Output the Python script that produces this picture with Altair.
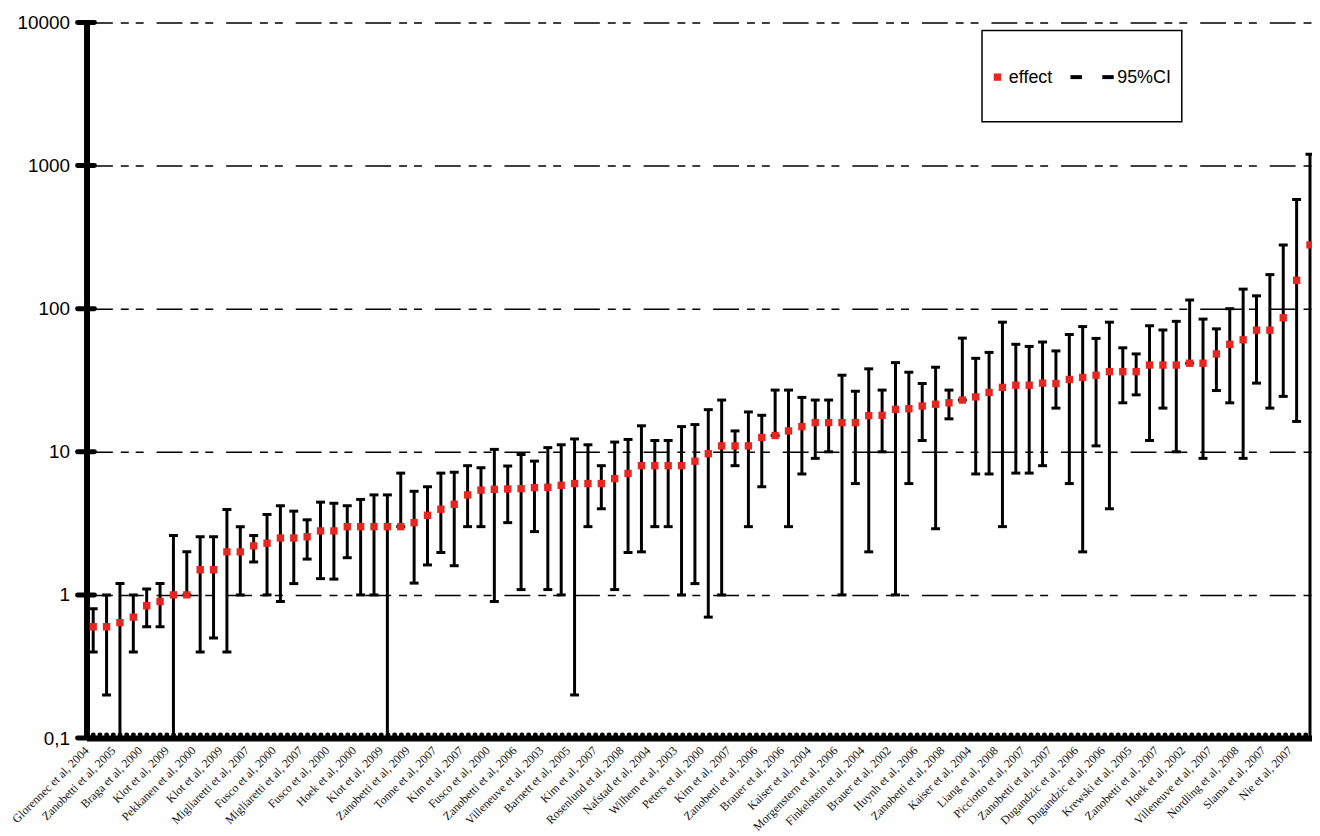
import altair as alt
import pandas as pd

# ---- data (one study per position) ----
EFFECT = [0.6, 0.6, 0.64, 0.7, 0.84, 0.9, 1.0, 1.0, 1.5, 1.5,
          2.0, 2.0, 2.2, 2.3, 2.5, 2.5, 2.55, 2.8, 2.8, 3.0,
          3.0, 3.0, 3.0, 3.0, 3.2, 3.6, 3.97, 4.3, 5.0, 5.4,
          5.47, 5.5, 5.53, 5.62, 5.65, 5.83, 6.0, 6.0, 6.0, 6.5,
          7.07, 8.0, 8.0, 8.0, 8.0, 8.6, 9.7, 11.0, 11.0, 11.0,
          12.6, 13.0, 14.0, 15.0, 16.0, 16.0, 16.0, 16.0, 17.9, 18.0,
          19.8, 20.0, 20.9, 21.5, 22.0, 23.0, 24.2, 26.0, 28.2, 29.2,
          29.2, 30.2, 30.0, 32.0, 33.1, 34.3, 36.3, 36.3, 36.3, 40.4,
          40.4, 40.4, 41.6, 41.6, 48.3, 56.4, 60.6, 70.8, 70.8, 86.4,
          158.0, 279.0]
LOWER = [0.4, 0.2, 0.1, 0.4, 0.6, 0.6, 0.1, 1.0, 0.4, 0.5,
         0.4, 1.0, 1.7, 1.0, 0.9, 1.2, 1.78, 1.3, 1.29, 1.82,
         1.0, 1.0, 0.1, 3.0, 1.21, 1.62, 1.98, 1.6, 3.0, 3.0,
         0.9, 3.2, 1.09, 2.77, 1.09, 1.0, 0.2, 3.0, 4.0, 1.09,
         1.98, 2.0, 3.0, 3.0, 1.0, 1.2, 0.7, 1.0, 8.0, 3.0,
         5.7, 13.0, 3.0, 7.0, 9.0, 10.0, 1.0, 6.0, 2.0, 10.0,
         1.0, 6.0, 12.0, 2.9, 17.0, 23.0, 7.0, 7.0, 3.0, 7.1,
         7.1, 8.0, 20.2, 6.0, 2.0, 11.0, 4.0, 22.0, 25.0, 12.0,
         20.2, 10.0, 41.6, 9.0, 26.8, 22.0, 9.0, 30.2, 20.2, 24.4,
         16.3, 0.1]
UPPER = [0.8, 1.0, 1.2, 1.0, 1.1, 1.2, 2.6, 2.0, 2.55, 2.55,
         3.95, 3.0, 2.6, 3.65, 4.2, 3.85, 3.35, 4.45, 4.37, 4.2,
         4.65, 5.0, 5.0, 7.1, 5.3, 5.7, 7.1, 7.2, 8.0, 7.74,
         10.4, 7.96, 9.58, 8.61, 10.7, 11.2, 12.3, 11.2, 8.0, 11.7,
         12.2, 15.2, 12.0, 12.0, 15.0, 15.5, 19.7, 23.0, 14.0, 19.0,
         18.0, 27.0, 27.0, 24.0, 23.0, 23.0, 34.3, 26.5, 38.0, 27.0,
         42.0, 36.0, 30.0, 39.0, 27.0, 62.3, 45.0, 49.5, 80.5, 56.4,
         54.5, 58.5, 50.7, 66.0, 75.0, 62.0, 80.5, 53.3, 48.3, 76.0,
         71.0, 81.6, 115.0, 84.6, 72.3, 100.0, 137.0, 123.0, 173.0, 279.0,
         579.0, 1200.0]

# labels shown for every second study
X_LABELS = ["Glorennec et al, 2004", "Zanobetti et al, 2005", "Braga et al, 2000",
            "Klot et al, 2009", "Pekkanen et al, 2000", "Klot et al, 2009",
            "Migliaretti et al, 2007", "Fusco et al, 2000", "Migliaretti et al, 2007",
            "Fusco et al, 2000", "Hoek et al, 2000", "Klot et al, 2009",
            "Zanobetti et al, 2009", "Tonne et al, 2007", "Kim et al, 2007",
            "Fusco et al, 2000", "Zanobetti et al, 2006", "Villeneuve et al, 2003",
            "Barnett et al, 2005", "Kim et al, 2007", "Rosenlund et al, 2008",
            "Nafstad et al, 2004", "Wilhem et al, 2003", "Peters et al, 2000",
            "Kim et al, 2007", "Zanobetti et al, 2006", "Brauer et al, 2006",
            "Kaiser et al, 2004", "Morgenstern et al, 2006", "Finkelstein et al, 2004",
            "Brauer et al, 2002", "Huynh et al, 2006", "Zanobetti et al, 2008",
            "Kaiser et al, 2004", "Liang et al, 2008", "Picciotto et al, 2007",
            "Zanobetti et al, 2007", "Dugandzic et al, 2006", "Dugandzic et al, 2006",
            "Krewski et al, 2005", "Zanobetti et al, 2007", "Hoek et al, 2002",
            "Villeneuve et al, 2007", "Nordling et al, 2008", "Slama et al, 2007",
            "Nie et al, 2007"]

Y_TICKS = [0.1, 1, 10, 100, 1000, 10000]
Y_TICK_LABELS = ["0,1", "1", "10", "100", "1000", "10000"]
LEGEND_LABELS = ["effect", "95%CI"]

RED = "#e8261f"
W, H = 1233, 720
X_MIN, X_MAX = -0.5, 91.15

df = pd.DataFrame({"idx": list(range(len(EFFECT))), "effect": EFFECT,
                   "lower": LOWER, "upper": UPPER})
ticks_df = pd.DataFrame({"v": Y_TICKS})
axis_line_df = pd.DataFrame({"a": [X_MIN], "b": [X_MAX], "v": [Y_TICKS[0]]})

X_SCALE = alt.Scale(domain=[X_MIN, X_MAX], nice=False, zero=False)
Y_SCALE = alt.Scale(type="log", domain=[Y_TICKS[0], Y_TICKS[-1]], nice=False)

x_label_expr = "[" + ",".join("'" + s + "'" for s in X_LABELS) + "][datum.value / 2]"
y_label_expr = "".join(f"datum.value == {v} ? '{l}' : " for v, l in zip(Y_TICKS, Y_TICK_LABELS)) + "''"

X_AXIS = alt.Axis(values=list(range(0, 2 * len(X_LABELS), 2)), labelExpr=x_label_expr,
                  labelAngle=-45, labelAlign="right", labelBaseline="middle",
                  labelFont="Liberation Serif", labelFontSize=12, labelColor="#111111",
                  labelPadding=10, labelOffset=-7, labelOverlap=False, labelBound=False,
                  labelFlush=False, ticks=False, tickSize=0, grid=False, domainWidth=6,
                  domainColor="black", title=None)
Y_AXIS = alt.Axis(values=Y_TICKS, labelExpr=y_label_expr, labelFont="Liberation Sans",
                  labelFontSize=19, labelColor="black", labelPadding=17, ticks=False,
                  tickSize=0, labelOverlap=False,
                  grid=True, gridDash=[26, 8, 8, 7, 8, 13], gridColor="black",
                  gridWidth=1.5, domainWidth=6, domainColor="black", title=None)


def X(field):
    return alt.X(field, type="quantitative", scale=X_SCALE, axis=X_AXIS)


def Y(field):
    return alt.Y(field, type="quantitative", scale=Y_SCALE, axis=Y_AXIS)


base = alt.Chart(df)

bars = base.mark_rule(color="black", strokeWidth=3, clip=True).encode(
    x=X("idx"), y=Y("lower"), y2="upper:Q")
cap_hi = base.mark_tick(color="black", orient="horizontal", size=9, thickness=3,
                        clip=True, opacity=1).encode(x=X("idx"), y=Y("upper"))
cap_lo = base.mark_tick(color="black", orient="horizontal", size=9, thickness=3,
                        clip=True, opacity=1).encode(x=X("idx"), y=Y("lower"))
points = base.mark_square(color=RED, size=55, opacity=1, clip=True).encode(
    x=X("idx"), y=Y("effect"))

# decorations of the axes: crossing tick bars on y, scalloped x axis line
ytick_bars = alt.Chart(ticks_df).mark_rule(color="black", strokeWidth=5,
                                           strokeCap="round").encode(
    y=Y("v"), x=alt.value(-9), x2=alt.value(8))
bumps = alt.Chart(axis_line_df).mark_rule(
    color="black", strokeWidth=5, strokeCap="round", strokeDash=[0, 6.74],
    yOffset=-3, clip=True).encode(x=X("a"), x2="b:Q", y=Y("v"))

# legend box
leg_df = pd.DataFrame({"label": LEGEND_LABELS})
leg_box = alt.Chart(leg_df.head(1)).mark_rect(fill="white", stroke="black",
                                             strokeWidth=1.5).encode(
    x=alt.value(901), x2=alt.value(1102), y=alt.value(8), y2=alt.value(100))
leg_sq = alt.Chart(leg_df.head(1)).mark_square(color=RED, size=55, opacity=1).encode(
    x=alt.value(916.5), y=alt.value(55))
leg_t1 = alt.Chart(leg_df.head(1)).mark_text(
    align="left", baseline="middle", font="Liberation Sans", fontSize=18,
    color="black").encode(x=alt.value(928), y=alt.value(55.5), text="label:N")
leg_d1 = alt.Chart(leg_df.head(1)).mark_rule(color="black", strokeWidth=4).encode(
    x=alt.value(990), x2=alt.value(1001.5), y=alt.value(55))
leg_d2 = alt.Chart(leg_df.head(1)).mark_rule(color="black", strokeWidth=4).encode(
    x=alt.value(1022), x2=alt.value(1033.5), y=alt.value(55))
leg_t2 = alt.Chart(leg_df.tail(1)).mark_text(
    align="left", baseline="middle", font="Liberation Sans", fontSize=18,
    color="black").encode(x=alt.value(1037), y=alt.value(55.5), text="label:N")

chart = alt.layer(
    bars, cap_hi, cap_lo, points, ytick_bars, bumps,
    leg_box, leg_sq, leg_t1, leg_d1, leg_d2, leg_t2,
).properties(
    width=W, height=H,
    autosize=alt.AutoSizeParams(type="none"),
    padding={"left": 79, "top": 12, "right": 0, "bottom": 96},
    background="white",
).configure_view(stroke=None)

chart.save("out.html", embed_options={"renderer": "svg", "actions": False})
